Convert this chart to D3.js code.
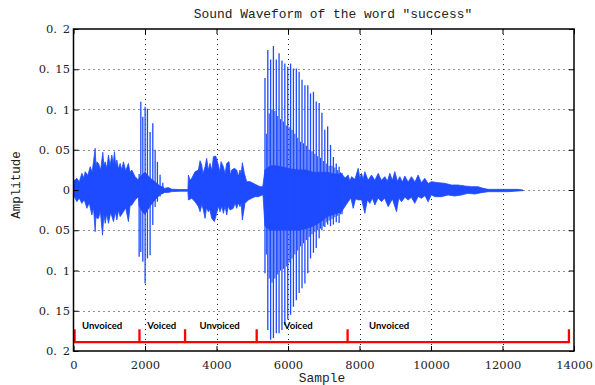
<!DOCTYPE html>
<html>
<head>
<meta charset="utf-8">
<script src="https://cdn.jsdelivr.net/npm/d3@7/dist/d3.min.js"></script>
<style>
  body { margin: 0; background: #fff; }
  svg { display: block; }
</style>
</head>
<body>
<svg id="chart" width="595" height="385"></svg>
<script>
// axis ticks
const xTicks = [0, 2000, 4000, 6000, 8000, 10000, 12000, 14000];
const yTicks = [-0.2, -0.15, -0.1, -0.05, 0, 0.05, 0.1, 0.15, 0.2];

// outline of the dense noisy parts of the waveform, [sample, amplitude]
const upperEnvelope = [
  [0, 0.0112], [94, 0.0145], [160, 0.010], [234, 0.0207], [290, 0.015], [327, 0.0228], [400, 0.018],
  [467, 0.029], [520, 0.022], [560, 0.0352], [606, 0.0518], [630, 0.028], [653, 0.035], [699, 0.033],
  [760, 0.025], [820, 0.0468], [850, 0.030], [886, 0.035], [930, 0.027], [979, 0.0435], [1020, 0.030],
  [1072, 0.0435], [1110, 0.032], [1146, 0.0476], [1180, 0.030], [1212, 0.0373], [1260, 0.026],
  [1305, 0.033], [1350, 0.025], [1398, 0.035], [1460, 0.024], [1537, 0.033], [1580, 0.022],
  [1631, 0.0248], [1724, 0.0166], [1817, 0.0124],
  [1836, 0.015], [1940, 0.020], [2003, 0.022], [2143, 0.015], [2283, 0.010], [2420, 0.005],
  [2498, 0.004], [2550, 0.002], [2650, 0.003], [2750, 0.001], [3000, 0.0005], [3200, 0.0005],
  [3214, 0.0186], [3260, 0.012], [3307, 0.0145], [3400, 0.0228], [3494, 0.0248], [3540, 0.0364],
  [3587, 0.031], [3620, 0.020], [3680, 0.029], [3726, 0.0393], [3770, 0.025], [3819, 0.0331],
  [3870, 0.024], [3913, 0.0414], [3978, 0.0422], [4052, 0.031], [4090, 0.022], [4127, 0.0352],
  [4192, 0.029], [4240, 0.020], [4285, 0.0331], [4350, 0.0352], [4390, 0.018], [4425, 0.0248],
  [4499, 0.0269], [4565, 0.0248], [4610, 0.017], [4658, 0.0248], [4690, 0.020], [4723, 0.0339],
  [4779, 0.0207], [4844, 0.0104], [4937, 0.0104], [5030, 0.0083], [5123, 0.0062], [5217, 0.0041],
  [5282, 0.0041],
  [5300, 0.006], [5356, 0.025], [5500, 0.030], [5700, 0.030], [5900, 0.028], [6100, 0.026],
  [6300, 0.025], [6500, 0.025], [6700, 0.022], [6900, 0.022], [7100, 0.022], [7300, 0.020],
  [7500, 0.020], [7600, 0.015],
  [7684, 0.0186], [7730, 0.011], [7778, 0.0166], [7871, 0.0132], [7964, 0.0269], [8010, 0.014],
  [8057, 0.0207], [8100, 0.013], [8150, 0.0228], [8240, 0.012], [8336, 0.0186], [8430, 0.012],
  [8523, 0.0207], [8610, 0.012], [8709, 0.0166], [8780, 0.011], [8849, 0.0207], [8920, 0.012],
  [8988, 0.0228], [9060, 0.011], [9128, 0.0166], [9200, 0.010], [9268, 0.0174], [9360, 0.010],
  [9454, 0.0166], [9550, 0.010], [9640, 0.0186], [9730, 0.009], [9826, 0.0145], [9920, 0.008],
  [10013, 0.0104], [10199, 0.0091], [10385, 0.0083], [10571, 0.0062], [10758, 0.0062],
  [10944, 0.005], [11130, 0.0041], [11316, 0.0041], [11456, 0.0021], [11596, 0.0008],
  [11875, 0.0008], [12155, 0.0008], [12434, 0.0008], [12574, 0]
];
const lowerEnvelope = [
  [0, -0.0062], [94, -0.0145], [160, -0.010], [234, -0.0166], [300, -0.012], [374, -0.0228],
  [440, -0.016], [513, -0.031], [560, -0.022], [606, -0.0518], [630, -0.030], [653, -0.0352],
  [699, -0.0352], [750, -0.026], [811, -0.056], [850, -0.030], [886, -0.0414], [930, -0.030],
  [979, -0.0414], [1040, -0.028], [1119, -0.0393], [1170, -0.027], [1212, -0.0373], [1260, -0.025],
  [1305, -0.0331], [1398, -0.0269], [1460, -0.022], [1537, -0.0393], [1580, -0.020], [1631, -0.0186],
  [1724, -0.0124], [1817, -0.0083],
  [1836, -0.020], [1940, -0.028], [2003, -0.030], [2143, -0.020], [2283, -0.012], [2420, -0.006],
  [2498, -0.004], [2550, -0.003], [2650, -0.003], [2750, -0.002], [3000, -0.0015], [3200, -0.0015],
  [3214, -0.0124], [3307, -0.0104], [3400, -0.0145], [3494, -0.0207], [3540, -0.027], [3590, -0.018],
  [3633, -0.0248], [3680, -0.0352], [3720, -0.022], [3773, -0.027], [3810, -0.024], [3866, -0.0352],
  [3940, -0.0393], [4006, -0.029], [4050, -0.020], [4099, -0.027], [4150, -0.020], [4192, -0.029],
  [4240, -0.020], [4285, -0.0311], [4330, -0.020], [4378, -0.0248], [4471, -0.0228], [4520, -0.016],
  [4565, -0.0228], [4610, -0.016], [4658, -0.0207], [4690, -0.016], [4723, -0.0373], [4797, -0.0166],
  [4890, -0.0124], [4984, -0.0104], [5077, -0.0083], [5170, -0.0083], [5282, -0.0062],
  [5300, -0.006], [5356, -0.045], [5500, -0.050], [5700, -0.050], [5900, -0.050], [6100, -0.050],
  [6300, -0.050], [6500, -0.048], [6700, -0.045], [6900, -0.040], [7100, -0.033], [7300, -0.030],
  [7500, -0.027], [7600, -0.020],
  [7684, -0.0145], [7760, -0.010], [7824, -0.0228], [7890, -0.011], [7964, -0.0124], [8060, -0.012],
  [8150, -0.029], [8220, -0.012], [8290, -0.0166], [8360, -0.010], [8429, -0.0186], [8520, -0.010],
  [8616, -0.0145], [8700, -0.010], [8802, -0.0207], [8920, -0.011], [9035, -0.027], [9100, -0.010],
  [9175, -0.0145], [9270, -0.009], [9361, -0.0124], [9450, -0.009], [9547, -0.0166], [9640, -0.008],
  [9733, -0.0104], [9830, -0.007], [9920, -0.0145], [10010, -0.006], [10106, -0.0083],
  [10292, -0.0083], [10478, -0.0062], [10664, -0.0075], [10851, -0.0062], [11037, -0.0041],
  [11223, -0.005], [11409, -0.0033], [11596, -0.0021], [11875, -0.0021], [12155, -0.0021],
  [12434, -0.0012], [12574, -0.0008]
];

// first voiced burst, one entry per pitch pulse
const burstSample = [1836, 1883, 1939, 2003, 2068, 2143, 2218, 2283, 2347, 2422, 2498];
const burstTop    = [0.020, 0.1097, 0.091, 0.1035, 0.101, 0.072, 0.083, 0.050, 0.035, 0.019, 0.009];
const burstBottom = [-0.083, -0.077, -0.089, -0.116, -0.085, -0.081, -0.0435, -0.021, -0.0145, -0.008, -0.005];

// main voiced part, main pitch pulses
const pulseSample = [5356, 5435, 5514, 5592, 5673, 5750, 5831, 5912, 5993, 6073, 6152, 6233, 6311, 6392,
  6473, 6554, 6630, 6712, 6790, 6871, 6949, 7030, 7109, 7190, 7270, 7350, 7430, 7510];
const pulseTop = [0.139, 0.174, 0.162, 0.179, 0.162, 0.170, 0.161, 0.157, 0.153, 0.157, 0.151, 0.151,
  0.147, 0.137, 0.130, 0.130, 0.120, 0.122, 0.110, 0.108, 0.096, 0.075, 0.079, 0.056, 0.041, 0.033,
  0.029, 0.021];
const pulseBottom = [-0.1035, -0.174, -0.186, -0.184, -0.178, -0.178, -0.174, -0.168, -0.161, -0.155,
  -0.145, -0.137, -0.128, -0.122, -0.116, -0.1035, -0.085, -0.078, -0.072, -0.060, -0.050, -0.046,
  -0.043, -0.045, -0.043, -0.040, -0.041, -0.030];

// smaller peaks between the main pulses
const minorSample = [5395, 5475, 5553, 5632, 5712, 5790, 5871, 5952, 6033, 6112, 6192, 6272, 6351, 6432,
  6513, 6592, 6671, 6751, 6830, 6910, 6990, 7070, 7150, 7230, 7310, 7390, 7470];
const minorTop = [0.070, 0.095, 0.100, 0.098, 0.092, 0.088, 0.085, 0.080, 0.078, 0.075, 0.070, 0.065,
  0.060, 0.058, 0.055, 0.050, 0.048, 0.045, 0.042, 0.040, 0.036, 0.033, 0.030, 0.030, 0.028, 0.025, 0.022];
const minorBottom = [-0.080, -0.110, -0.115, -0.110, -0.105, -0.100, -0.098, -0.095, -0.090, -0.085,
  -0.080, -0.075, -0.070, -0.066, -0.062, -0.058, -0.055, -0.052, -0.050, -0.048, -0.045, -0.040,
  -0.038, -0.036, -0.034, -0.032, -0.030];

// voiced / unvoiced segmentation
const segmentBounds = [30, 1845, 3121, 5124, 7667, 13858];
const segmentLabels = ['Unvoiced', 'Voiced', 'Unvoiced', 'Voiced', 'Unvoiced'];
const labelSample = [802, 2471, 4087, 6287, 8831];
const segLineLevel = -0.189;
const segTickLevel = -0.173;
const labelLevel = -0.1725;

const blue = '#1e4bff';

const svg = d3.select('#chart');
const x = d3.scaleLinear().domain([0, 14000]).range([73.5, 574]);
const y = d3.scaleLinear().domain([-0.2, 0.2]).range([351, 29]);

// dotted grid
const grid = svg.append('g').attr('stroke', '#222').attr('stroke-width', 1)
  .attr('stroke-dasharray', '1,4');
grid.selectAll('.vg').data(xTicks.slice(1, -1)).enter().append('line')
  .attr('x1', d => Math.round(x(d)) + 0.5).attr('x2', d => Math.round(x(d)) + 0.5)
  .attr('y1', y(0.2)).attr('y2', y(-0.2));
grid.selectAll('.hg').data(yTicks.slice(1, -1)).enter().append('line')
  .attr('y1', d => Math.round(y(d)) + 0.5).attr('y2', d => Math.round(y(d)) + 0.5)
  .attr('x1', x(0)).attr('x2', x(14000));

// waveform
const plot = svg.append('g');
const outline = upperEnvelope.map(d => [x(d[0]), y(d[1])])
  .concat(lowerEnvelope.slice().reverse().map(d => [x(d[0]), y(d[1])]));
plot.append('path')
  .attr('d', d3.line()(outline) + 'Z')
  .attr('fill', blue).attr('stroke', blue).attr('stroke-width', 0.8)
  .attr('stroke-linejoin', 'round');

function spikes(samples, tops, bottoms, width) {
  plot.append('g').selectAll('line').data(samples).enter().append('line')
    .attr('x1', d => x(d)).attr('x2', d => x(d))
    .attr('y1', (d, i) => y(bottoms[i])).attr('y2', (d, i) => y(tops[i]))
    .attr('stroke', blue).attr('stroke-width', width);
}
spikes(minorSample, minorTop, minorBottom, 1.1);
spikes(burstSample, burstTop, burstBottom, 1.3);
spikes(pulseSample, pulseTop, pulseBottom, 1.3);

// segmentation marks
const seg = svg.append('g').attr('stroke', '#ff0000').attr('stroke-width', 2.3).attr('fill', 'none');
seg.append('line')
  .attr('x1', x(segmentBounds[0])).attr('x2', x(segmentBounds[segmentBounds.length - 1]))
  .attr('y1', y(segLineLevel)).attr('y2', y(segLineLevel));
seg.selectAll('.sb').data(segmentBounds).enter().append('line')
  .attr('x1', d => x(d)).attr('x2', d => x(d))
  .attr('y1', y(segLineLevel) + 1).attr('y2', y(segTickLevel));
svg.append('g').selectAll('text').data(segmentLabels).enter().append('text')
  .attr('x', (d, i) => x(labelSample[i])).attr('y', y(labelLevel))
  .attr('text-anchor', 'middle')
  .style('font-family', 'Lato, sans-serif').style('font-weight', 'bold').style('font-size', '9.6px')
  .attr('fill', '#000')
  .text(d => d);

// axes: ticks inside on all four sides
const tickFont = 'DejaVu Serif, serif';
const fmt = d => String(Math.abs(+d.toFixed(2))).replace('.', '.\u2002');
svg.append('g').attr('transform', `translate(0,${y(-0.2)})`)
  .call(d3.axisBottom(x).tickValues(xTicks).tickSize(-5).tickPadding(10).tickFormat(d3.format('d')));
svg.append('g').attr('transform', `translate(${x(0)},0)`)
  .call(d3.axisLeft(y).tickValues(yTicks).tickSize(-5).tickPadding(3.5).tickFormat(fmt));
svg.append('g').attr('transform', `translate(0,${y(0.2)})`)
  .call(d3.axisTop(x).tickValues(xTicks).tickSize(-5).tickFormat(''));
svg.append('g').attr('transform', `translate(${x(14000)},0)`)
  .call(d3.axisRight(y).tickValues(yTicks).tickSize(-5).tickFormat(''));
svg.selectAll('.domain').remove();
svg.selectAll('.tick line').attr('stroke', '#000');
svg.selectAll('.tick text').attr('fill', '#222')
  .style('font-family', tickFont).style('font-size', '11.5px');

// box
svg.append('rect')
  .attr('x', x(0)).attr('y', y(0.2))
  .attr('width', x(14000) - x(0)).attr('height', y(-0.2) - y(0.2))
  .attr('fill', 'none').attr('stroke', '#000').attr('stroke-width', 1.5);

// titles
const monoFont = 'Liberation Mono, monospace';
svg.append('text').attr('x', 333).attr('y', 17.5).attr('text-anchor', 'middle')
  .style('font-family', monoFont).style('font-size', '12.9px').attr('fill', '#222')
  .text('Sound Waveform of the word "success"');
svg.append('text').attr('x', 322).attr('y', 382).attr('text-anchor', 'middle')
  .style('font-family', monoFont).style('font-size', '12.9px').attr('fill', '#222')
  .text('Sample');
svg.append('text').attr('transform', 'translate(20,185) rotate(-90)').attr('text-anchor', 'middle')
  .style('font-family', monoFont).style('font-size', '12.5px').attr('fill', '#222')
  .text('Amplitude');
</script>
</body>
</html>
